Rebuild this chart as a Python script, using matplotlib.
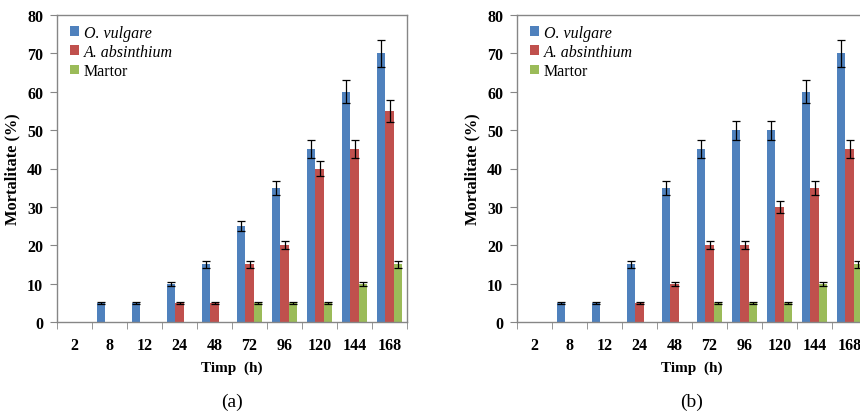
import matplotlib
matplotlib.use('Agg')
import matplotlib.pyplot as plt
import numpy as np

plt.rcParams['font.family'] = 'Liberation Serif'

hours = ['2', '8', '12', '24', '48', '72', '96', '120', '144', '168']
series_names = ['O. vulgare', 'A. absinthium', 'Martor']

# panel (a)
a_vulgare = [0, 5, 5, 10, 15, 25, 35, 45, 60, 70]
a_absinthium = [0, 0, 0, 5, 5, 15, 20, 40, 45, 55]
a_martor = [0, 0, 0, 0, 0, 5, 5, 5, 10, 15]
a_vulgare_err = [0, 0.3, 0.3, 0.5, 0.8, 1.3, 1.8, 2.3, 3.0, 3.5]
a_absinthium_err = [0, 0, 0, 0.3, 0.3, 0.8, 1.0, 2.0, 2.3, 2.8]
a_martor_err = [0, 0, 0, 0, 0, 0.3, 0.3, 0.3, 0.5, 0.8]

# panel (b)
b_vulgare = [0, 5, 5, 15, 35, 45, 50, 50, 60, 70]
b_absinthium = [0, 0, 0, 5, 10, 20, 20, 30, 35, 45]
b_martor = [0, 0, 0, 0, 0, 5, 5, 5, 10, 15]
b_vulgare_err = [0, 0.3, 0.3, 0.8, 1.8, 2.3, 2.5, 2.5, 3.0, 3.5]
b_absinthium_err = [0, 0, 0, 0.3, 0.5, 1.0, 1.0, 1.5, 1.8, 2.3]
b_martor_err = [0, 0, 0, 0, 0, 0.3, 0.3, 0.3, 0.5, 0.8]

colors = ['#4F81BD', '#C0504D', '#9BBB59']
spine_col = '#868686'


def draw_panel(ax, values, errors, caption):
    x = np.arange(len(hours))
    w = 0.24
    for i, (vals, errs) in enumerate(zip(values, errors)):
        pos = x + (i - 1) * w
        ax.bar(pos, vals, w, color=colors[i], label=series_names[i], zorder=2)
        vals = np.array(vals, dtype=float)
        errs = np.array(errs, dtype=float)
        m = vals > 0
        ax.errorbar(pos[m], vals[m], yerr=errs[m], fmt='none', ecolor='black',
                    elinewidth=0.9, capsize=3, capthick=0.9, zorder=3)

    ax.set_xlim(-0.5, len(hours) - 0.5)
    ax.set_ylim(0, 80)
    ax.set_yticks(range(0, 81, 10))
    ax.set_xticks(x)
    ax.set_xticklabels(hours)
    ax.set_xticks(np.arange(-0.5, len(hours), 1), minor=True)
    ax.tick_params(axis='x', which='major', length=0, pad=11)
    ax.tick_params(axis='x', which='minor', length=5, direction='out', color=spine_col)
    ax.tick_params(axis='y', length=5, direction='out', color=spine_col, pad=5)
    for lab in ax.get_xticklabels() + ax.get_yticklabels():
        lab.set_fontweight('bold')
        lab.set_fontsize(11.5)
    for sp in ax.spines.values():
        sp.set_color(spine_col)
        sp.set_linewidth(1)

    ax.set_xlabel('Timp  (h)', fontsize=11, fontweight='bold', labelpad=5)
    ax.set_ylabel('Mortalitate (%)', fontsize=11.8, fontweight='bold', labelpad=5)

    leg = ax.legend(loc='upper left', frameon=False, fontsize=11.5,
                    handlelength=0.55, handleheight=0.55, handletextpad=0.3,
                    labelspacing=0.2, borderaxespad=0.2, bbox_to_anchor=(0.01, 1.0))
    for t in leg.get_texts()[:2]:
        t.set_fontstyle('italic')

    ax.text(0.5, -0.23, caption, transform=ax.transAxes, ha='center', va='top',
            fontsize=14)


fig = plt.figure(figsize=(8.6, 4.14), dpi=100)
ax1 = fig.add_axes([57 / 860, 1 - 323 / 414, 350 / 860, 307 / 414])
ax2 = fig.add_axes([517 / 860, 1 - 323 / 414, 350 / 860, 307 / 414])

draw_panel(ax1, [a_vulgare, a_absinthium, a_martor],
           [a_vulgare_err, a_absinthium_err, a_martor_err], '(a)')
draw_panel(ax2, [b_vulgare, b_absinthium, b_martor],
           [b_vulgare_err, b_absinthium_err, b_martor_err], '(b)')

fig.savefig('out.png', dpi=100)
